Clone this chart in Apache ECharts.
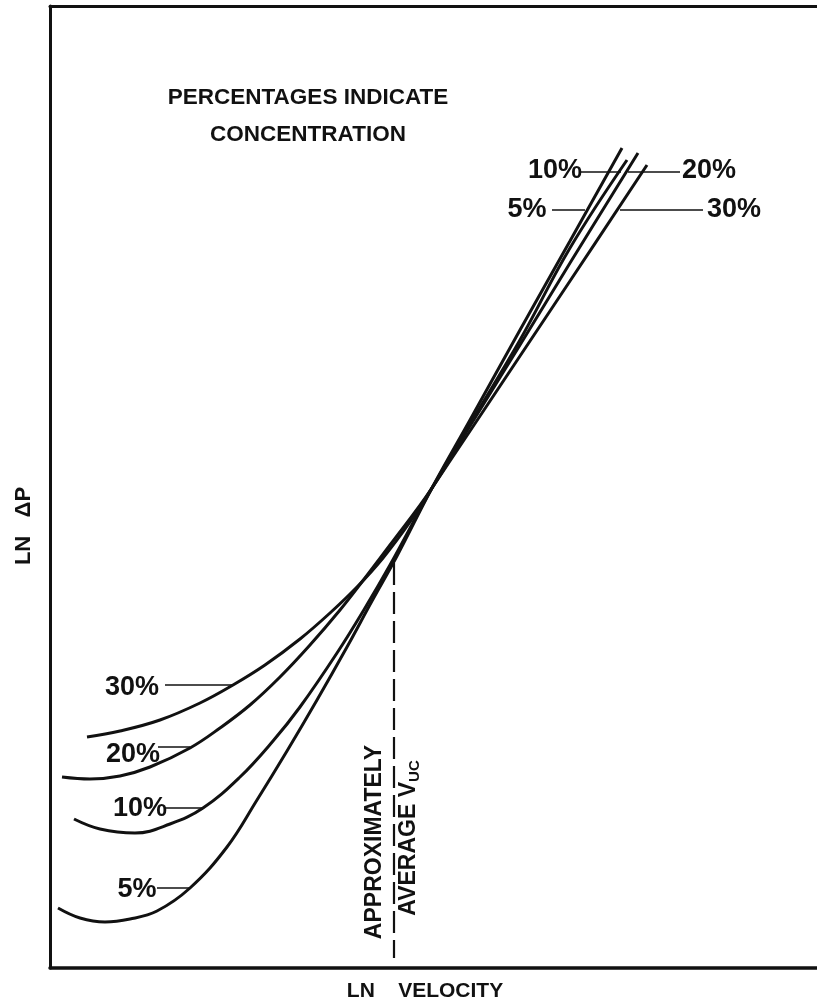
<!DOCTYPE html>
<html>
<head>
<meta charset="utf-8">
<script src="https://cdn.jsdelivr.net/npm/echarts@6/dist/echarts.min.js"></script>
<style>
html,body{margin:0;padding:0;background:#fff;}
#chart{width:817px;height:1007px;}
</style>
</head>
<body>
<div id="chart"></div>
<script>
// Arbitrary units (ln velocity, ln ΔP) — no ticks in the original
const curve5 = [[8,60],[30,50],[55,46],[80,49],[107,57],[140,80],[177,121],[207,168],[237,217],[267,268],[297,321],[322,367],[347,412],[382,480],[420,548],[470,638],[520,727],[572,820]];
const curve10 = [[24,149],[50,139],[85,135],[120,144],[153,160],[190,191],[223,227],[250,261],[287,315],[315,360],[340,403],[382,480],[420,544],[470,628],[520,720],[577,808]];
const curve20 = [[12,191],[40,189],[70,192],[100,201],[140,220],[170,240],[200,263],[230,291],[260,323],[290,358],[315,390],[340,423],[382,480],[420,542],[470,623],[520,705],[588,815]];
const curve30 = [[37,231],[70,237],[110,248],[150,265],[183,283],[215,303],[250,329],[280,355],[307,381],[333,410],[360,446],[382,480],[420,537],[470,612],[520,687],[597,803]];

const seriesNames = ['5%','10%','20%','30%'];

// leader lines from the percentage labels to the curves
const leaders = [
  [[107,80],[140,80]],     // 5% lower
  [[115,160],[153,160]],   // 10% lower
  [[108,221],[140,221]],   // 20% lower
  [[115,283],[183,283]],   // 30% lower
  [[502,758],[535,758]],   // 5% upper
  [[531,796],[571,796]],   // 10% upper
  [[578,796],[630,796]],   // 20% upper
  [[570,758],[653,758]]    // 30% upper
];

// label anchor points [x, y, text]
const pctLabels = [
  [87,78,'5%'],[90,159,'10%'],[83,213,'20%'],[82,280,'30%'],
  [477,758,'5%'],[505,797,'10%'],[659,797,'20%'],[684,758,'30%']
];

const titleLines = [[258,870,'PERCENTAGES INDICATE'],[258,833,'CONCENTRATION']];

// vertical dashed marker: approximately average V_uc
const vucLine = [[344,405],[344,10]];
const vucText = [[325,126,'APPROXIMATELY'],[359,130,'AVERAGE V']];

const xRange = [0, 767];
const yRange = [0, 962];

const FONT = 'Liberation Sans';
const INK = '#111';

const chart = echarts.init(document.getElementById('chart'), null, {renderer:'canvas'});

const series = [];
[curve5, curve10, curve20, curve30].forEach((c, i) => {
  series.push({
    type:'line', name: seriesNames[i], data: c, showSymbol:false, symbol:'none',
    smooth: 0.4,
    lineStyle:{color:INK, width:3}, silent:true, clip:false, z:3
  });
});
leaders.forEach(l => {
  series.push({type:'line', data:l, symbol:'none', lineStyle:{color:INK, width:1.6}, silent:true, z:2});
});
series.push({
  type:'line', data: vucLine, symbol:'none',
  lineStyle:{color:INK, width:2.2, type:[22,7]}, silent:true, z:2
});
const labelItem = {opacity:1, color:'transparent'};
series.push({
  type:'scatter', data: pctLabels, symbolSize:0, silent:true, z:5, itemStyle:labelItem,
  label:{show:true, position:'inside', formatter:p=>p.value[2], opacity:1,
    fontFamily:FONT, fontWeight:'bold', fontSize:27, color:INK}
});
series.push({
  type:'scatter', data: titleLines, symbolSize:0, silent:true, z:5, itemStyle:labelItem,
  label:{show:true, position:'inside', formatter:p=>p.value[2], opacity:1,
    fontFamily:FONT, fontWeight:'bold', fontSize:22.5, color:INK}
});
series.push({
  type:'scatter', data: vucText, symbolSize:0, silent:true, z:5, itemStyle:labelItem,
  label:{show:true, position:'inside', rotate:90, opacity:1,
    formatter:p=> p.dataIndex===1 ? '{a|' + p.value[2] + '}{s|UC}' : '{a|' + p.value[2] + '}',
    rich:{
      a:{fontFamily:FONT, fontWeight:'bold', fontSize:23, color:INK, lineHeight:26},
      s:{fontFamily:FONT, fontWeight:'bold', fontSize:15, color:INK, lineHeight:26, padding:[12,0,0,0]}
    }}
});

chart.setOption({
  backgroundColor:'#fff',
  animation:false,
  grid:{left:50, right:0, top:6, bottom:39, containLabel:false},
  xAxis:[
    {type:'value', min:xRange[0], max:xRange[1], position:'bottom',
     axisLine:{show:true, lineStyle:{color:INK, width:3.5}}, axisTick:{show:false},
     axisLabel:{show:false}, splitLine:{show:false}},
    {type:'value', min:xRange[0], max:xRange[1], position:'top',
     axisLine:{show:true, lineStyle:{color:INK, width:3}}, axisTick:{show:false},
     axisLabel:{show:false}, splitLine:{show:false}}
  ],
  yAxis:{type:'value', min:yRange[0], max:yRange[1],
     axisLine:{show:true, lineStyle:{color:INK, width:3}}, axisTick:{show:false},
     axisLabel:{show:false}, splitLine:{show:false}},
  graphic:[
    {type:'text', x:24, y:526, rotation:Math.PI/2,
     style:{text:'LN   ΔP', textAlign:'center', textVerticalAlign:'middle',
       font:'bold 22px "Liberation Sans"', fill:INK}},
    {type:'text', x:425, y:991,
     style:{text:'LN    VELOCITY', textAlign:'center', textVerticalAlign:'middle',
       font:'bold 21px "Liberation Sans"', fill:INK}}
  ],
  series: series
});
</script>
</body>
</html>
